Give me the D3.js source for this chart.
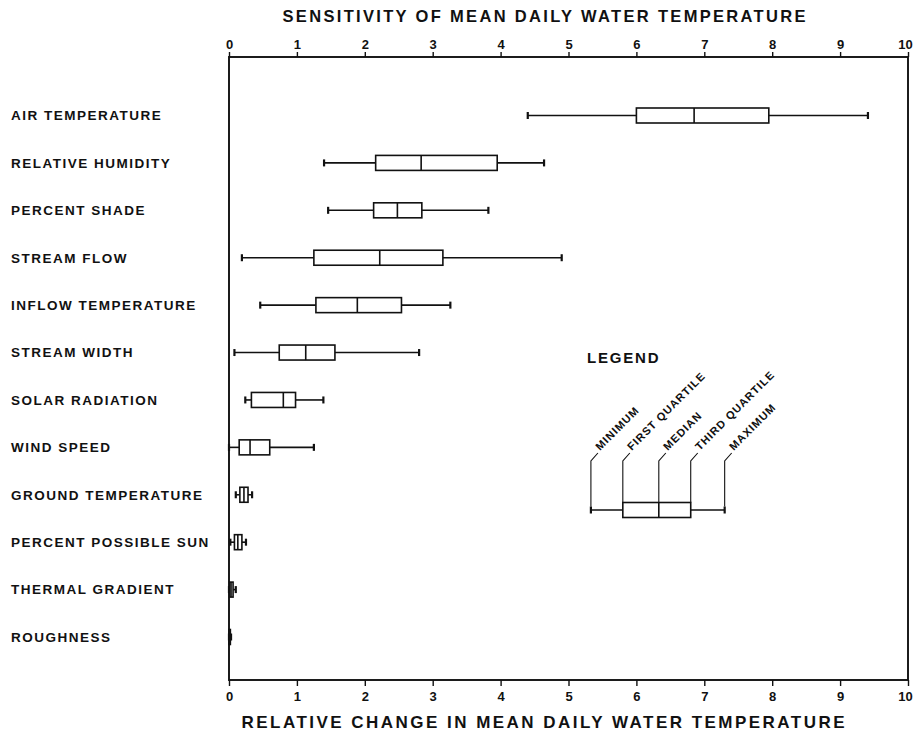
<!DOCTYPE html>
<html>
<head>
<meta charset="utf-8">
<script src="https://cdn.jsdelivr.net/npm/d3@7"></script>
<style>
  body { margin: 0; background: #fff; }
  text { font-family: "Liberation Sans", Arial, Helvetica, sans-serif; fill: #111; }
</style>
</head>
<body>
<svg id="chart"></svg>
<script>
let w = 913;
let h = 739;

// sensitivity box plot values, one entry per category
const categories = ['AIR TEMPERATURE', 'RELATIVE HUMIDITY', 'PERCENT SHADE', 'STREAM FLOW',
    'INFLOW TEMPERATURE', 'STREAM WIDTH', 'SOLAR RADIATION', 'WIND SPEED',
    'GROUND TEMPERATURE', 'PERCENT POSSIBLE SUN', 'THERMAL GRADIENT', 'ROUGHNESS'];
const minVals    = [4.40, 1.40, 1.46, 0.19, 0.46, 0.08, 0.24, 0.00, 0.10, 0.02, 0.00, 0.00];
const q1Vals     = [6.00, 2.16, 2.13, 1.25, 1.28, 0.74, 0.33, 0.15, 0.16, 0.08, 0.01, 0.00];
const medianVals = [6.85, 2.83, 2.48, 2.22, 1.89, 1.13, 0.80, 0.31, 0.22, 0.13, 0.03, 0.01];
const q3Vals     = [7.95, 3.95, 2.84, 3.15, 2.54, 1.56, 0.98, 0.60, 0.28, 0.19, 0.06, 0.02];
const maxVals    = [9.41, 4.64, 3.82, 4.90, 3.26, 2.80, 1.39, 1.25, 0.34, 0.25, 0.10, 0.03];

const tickValues = [0, 1, 2, 3, 4, 5, 6, 7, 8, 9, 10];

// legend sample box
const legendNames = ['MINIMUM', 'FIRST QUARTILE', 'MEDIAN', 'THIRD QUARTILE', 'MAXIMUM'];
const legendVals  = [5.33, 5.80, 6.33, 6.80, 7.30];

const topTitle = 'SENSITIVITY OF MEAN DAILY WATER TEMPERATURE';
const bottomTitle = 'RELATIVE CHANGE IN MEAN DAILY WATER TEMPERATURE';

const rows = categories.map((c, i) => ({
    name: c, min: minVals[i], q1: q1Vals[i], med: medianVals[i], q3: q3Vals[i], max: maxVals[i]
}));

const plotLeft = 229, plotRight = 908, plotTop = 57, plotBottom = 680;

const svg = d3.select('#chart')
    .attr('width', w)
    .attr('height', h);

const x = d3.scaleLinear().domain([0, 10]).range([plotLeft, plotRight]);
const y = d3.scalePoint().domain(categories).range([115.5, 637]);

const boxH = 15;
const capH = 7;

// frame
svg.append('rect')
    .attr('x', plotLeft).attr('y', plotTop)
    .attr('width', plotRight - plotLeft).attr('height', plotBottom - plotTop)
    .attr('fill', 'none')
    .attr('stroke', '#111')
    .attr('stroke-width', 1.9);

// axes
const topAxis = svg.append('g')
    .attr('transform', `translate(0,${plotTop})`)
    .call(d3.axisTop(x).tickValues(tickValues).tickSize(5).tickPadding(3).tickFormat(d3.format('d')));
const bottomAxis = svg.append('g')
    .attr('transform', `translate(0,${plotBottom})`)
    .call(d3.axisBottom(x).tickValues(tickValues).tickSize(6).tickPadding(6).tickFormat(d3.format('d')));

[topAxis, bottomAxis].forEach(g => {
    g.select('.domain').remove();
    g.selectAll('line').attr('stroke', '#111').attr('stroke-width', 1.4);
    g.selectAll('text')
        .style('font-family', '"Liberation Sans", Arial, sans-serif')
        .style('font-size', '13px')
        .style('font-weight', 'bold')
        .attr('fill', '#111')
        .attr('dx', d => d === 10 ? -3 : 0);
});

// titles
svg.append('text')
    .attr('x', 544).attr('y', 22)
    .attr('text-anchor', 'middle')
    .attr('textLength', 523).attr('lengthAdjust', 'spacing')
    .style('font-size', '16.5px').style('font-weight', 'bold')
    .text(topTitle);

svg.append('text')
    .attr('x', 543).attr('y', 728)
    .attr('text-anchor', 'middle')
    .attr('textLength', 603).attr('lengthAdjust', 'spacing')
    .style('font-size', '17px').style('font-weight', 'bold')
    .text(bottomTitle);

// category labels
svg.append('g').selectAll('text')
    .data(rows)
    .join('text')
    .attr('x', 11)
    .attr('y', d => y(d.name))
    .attr('dy', '0.36em')
    .style('font-size', '13.5px')
    .style('font-weight', 'bold')
    .style('letter-spacing', '1.5px')
    .text(d => d.name);

// draws one box plot at a given center line
const drawBox = (g, d, cy) => {
    g.append('line')
        .attr('x1', x(d.min)).attr('x2', x(d.q1))
        .attr('y1', cy).attr('y2', cy);
    g.append('line')
        .attr('x1', x(d.q3)).attr('x2', x(d.max))
        .attr('y1', cy).attr('y2', cy);
    [d.min, d.max].forEach(v => {
        g.append('line')
            .attr('x1', x(v)).attr('x2', x(v))
            .attr('y1', cy - capH / 2).attr('y2', cy + capH / 2)
            .attr('stroke-width', 2.2);
    });
    g.append('rect')
        .attr('x', x(d.q1)).attr('y', cy - boxH / 2)
        .attr('width', Math.max(x(d.q3) - x(d.q1), 0.5))
        .attr('height', boxH)
        .attr('fill', '#fff');
    g.append('line')
        .attr('x1', x(d.med)).attr('x2', x(d.med))
        .attr('y1', cy - boxH / 2).attr('y2', cy + boxH / 2);
};

const boxes = svg.append('g')
    .attr('stroke', '#111')
    .attr('stroke-width', 1.6)
    .attr('fill', 'none');

rows.forEach(d => drawBox(boxes.append('g'), d, y(d.name)));

// legend
const legendY = 510;
const legend = svg.append('g');

legend.append('text')
    .attr('x', 587).attr('y', 363)
    .style('font-size', '15px')
    .style('font-weight', 'bold')
    .style('letter-spacing', '1.8px')
    .text('LEGEND');

const legendBox = legend.append('g')
    .attr('stroke', '#111')
    .attr('stroke-width', 1.6)
    .attr('fill', 'none');

drawBox(legendBox, {
    min: legendVals[0], q1: legendVals[1], med: legendVals[2], q3: legendVals[3], max: legendVals[4]
}, legendY);

const leaderTop = 461;
legendVals.forEach((v, i) => {
    const lx = x(v);
    const startY = (i === 0 || i === 4) ? legendY - capH / 2 : legendY - boxH / 2;
    legendBox.append('path')
        .attr('d', `M${lx},${startY}V${leaderTop}l7,-8`)
        .attr('stroke-width', 1.1);
    legend.append('text')
        .attr('transform', `translate(${lx + 9},${leaderTop - 10}) rotate(-45)`)
        .style('font-size', '11px')
        .style('font-weight', 'bold')
        .style('letter-spacing', '1px')
        .text(legendNames[i]);
});
</script>
</body>
</html>
